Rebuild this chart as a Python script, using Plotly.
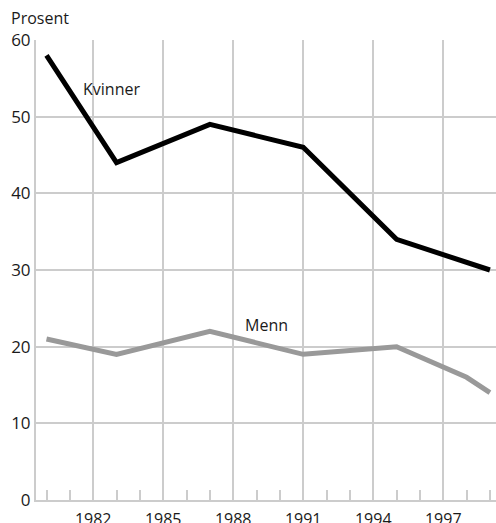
import plotly.graph_objects as go

years_k = [1980, 1983, 1987, 1991, 1995, 1999]
kvinner = [58, 44, 49, 46, 34, 30]
years_m = [1980, 1983, 1987, 1991, 1995, 1998, 1999]
menn = [21, 19, 22, 19, 20, 16, 14]
x_ticks = [1982, 1985, 1988, 1991, 1994, 1997]
y_ticks = [0, 10, 20, 30, 40, 50, 60]

GRID = "#cccccc"
FONT = "Open Sans"

fig = go.Figure()
fig.add_trace(go.Scatter(x=years_k, y=kvinner, mode="lines",
                         line=dict(color="black", width=5), showlegend=False))
fig.add_trace(go.Scatter(x=years_m, y=menn, mode="lines",
                         line=dict(color="#999999", width=5), showlegend=False))

fig.add_annotation(x=1981.48, y=53.6, text="Kvinner", showarrow=False,
                   xanchor="left", yanchor="middle",
                   font=dict(size=16, color="#1a1a1a", family=FONT))
fig.add_annotation(x=1988.42, y=22.8, text="Menn", showarrow=False,
                   xanchor="left", yanchor="middle",
                   font=dict(size=16, color="#1a1a1a", family=FONT))
fig.add_annotation(x=0, xref="paper", y=1, yref="paper", yshift=22,
                   text="Prosent", showarrow=False, xanchor="left",
                   yanchor="middle", xshift=-27,
                   font=dict(size=16, color="#1a1a1a", family=FONT))

fig.update_layout(
    width=496, height=523,
    margin=dict(l=36, r=0, t=40, b=23),
    paper_bgcolor="white", plot_bgcolor="white",
    font=dict(family=FONT, size=17, color="#1a1a1a"),
    xaxis=dict(range=[1979.55, 1999.26], tickvals=x_ticks,
               ticks="inside", ticklen=10, tickwidth=2, tickcolor=GRID,
               showgrid=True, gridcolor=GRID, gridwidth=2,
               showline=True, linecolor=GRID, linewidth=2,
               zeroline=False, ticklabelstandoff=4, automargin=False,
               minor=dict(dtick=1, tick0=1980, ticks="inside", ticklen=10,
                          tickwidth=2, tickcolor=GRID, showgrid=False),
               tickfont=dict(size=16)),
    yaxis=dict(range=[0, 60], tickvals=y_ticks, ticks="",
               showgrid=True, gridcolor=GRID, gridwidth=2,
               showline=True, linecolor=GRID, linewidth=2, automargin=False,
               zeroline=False, tickfont=dict(size=17)),
)

fig.write_html(
    "out.html",
    config={"displayModeBar": False},
    post_script="document.body.style.margin='0';document.body.style.overflow='hidden';",
)
